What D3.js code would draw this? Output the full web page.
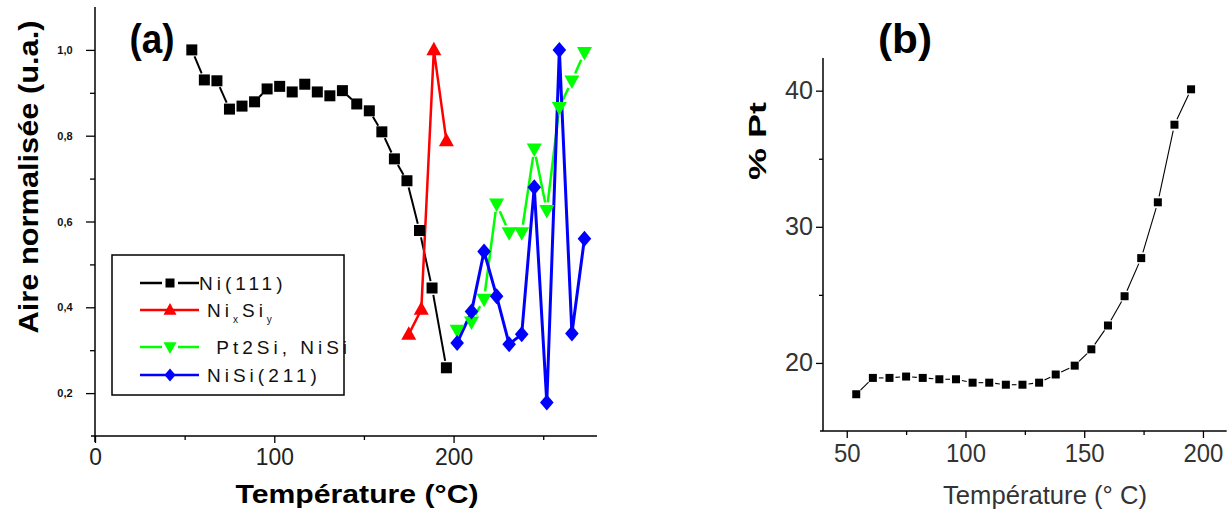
<!DOCTYPE html>
<html>
<head>
<meta charset="utf-8">
<script src="https://cdn.jsdelivr.net/npm/d3@7"></script>
<style>
  html, body { margin: 0; padding: 0; background: #fff; }
  svg { display: block; }
</style>
</head>
<body>
<svg id="chart" width="1232" height="515"></svg>
<script>
// ---------- Data (panel a) ----------
const niTemps   = [54, 61, 68, 75, 82, 89, 96, 103, 110, 117, 124, 131, 138, 146, 153, 160, 167, 174, 181, 188, 196];
const niValues  = [1.0, 0.930, 0.928, 0.862, 0.869, 0.879, 0.909, 0.915, 0.902, 0.920, 0.902, 0.893, 0.905, 0.874, 0.858, 0.809, 0.746, 0.695, 0.579, 0.445, 0.259];
const nixTemps  = [175, 182, 189, 196];
const nixValues = [0.337, 0.395, 1.0, 0.788];
const ptTemps   = [202, 210, 217, 224, 231, 238, 245, 252, 259, 266, 273];
const ptValues  = [0.347, 0.366, 0.419, 0.641, 0.574, 0.574, 0.769, 0.626, 0.866, 0.928, 0.994];
const nisiTemps = [202, 210, 217, 224, 231, 238, 245, 252, 259, 266, 273];
const nisiValues= [0.317, 0.390, 0.530, 0.426, 0.314, 0.337, 0.680, 0.178, 1.0, 0.339, 0.560];
const aYTicks   = [0.2, 0.4, 0.6, 0.8, 1.0];
const aYTickLabels = ["0,2", "0,4", "0,6", "0,8", "1,0"];
const aYMinor   = [0.3, 0.5, 0.7, 0.9];
const aXTicks   = [0, 100, 200];
const aXMinor   = [50, 150, 250];
const legendLabels = ["Ni(111)", "NixSiy", " Pt2Si, NiSi", "NiSi(211)"];

// ---------- Data (panel b) ----------
const ptTempsB  = [54, 61, 68, 75, 82, 89, 96, 103, 110, 117, 124, 131, 138, 146, 153, 160, 167, 174, 181, 188, 195];
const ptPercent = [17.7, 18.9, 18.9, 19.0, 18.9, 18.8, 18.8, 18.55, 18.55, 18.4, 18.4, 18.55, 19.15, 19.8, 21.0, 22.75, 24.9, 27.7, 31.8, 37.5, 40.1];
const bYTicks   = [20, 30, 40];
const bYMinor   = [25, 35];
const bXTicks   = [50, 100, 150, 200];
const bXMinor   = [75, 125, 175];

const svg = d3.select("#chart");
const FONT = "'Liberation Sans', Arial, sans-serif";

// ---------- helpers ----------
function gappedSegments(g, pts, gap, color, width, dash) {
  for (let i = 0; i < pts.length - 1; i++) {
    const [x1, y1] = pts[i], [x2, y2] = pts[i + 1];
    const dx = x2 - x1, dy = y2 - y1, L = Math.hypot(dx, dy);
    if (L <= 2 * gap + 1) continue;
    const ux = dx / L, uy = dy / L;
    const s = g.append("line")
      .attr("x1", x1 + ux * gap).attr("y1", y1 + uy * gap)
      .attr("x2", x2 - ux * gap).attr("y2", y2 - uy * gap)
      .attr("stroke", color).attr("stroke-width", width);
    if (dash) s.attr("stroke-dasharray", dash);
  }
}
function drawMarker(g, type, x, y, size, color) {
  if (type === "square") {
    g.append("rect").attr("x", x - size / 2).attr("y", y - size / 2)
      .attr("width", size).attr("height", size).attr("fill", color);
  } else if (type === "triUp" || type === "triDown") {
    const h = size * 0.9, w = size;
    const dir = type === "triUp" ? 1 : -1;
    const pts = [[x, y - dir * h * 0.6], [x - w / 2, y + dir * h * 0.4], [x + w / 2, y + dir * h * 0.4]];
    g.append("polygon").attr("points", pts.map(p => p.join(",")).join(" ")).attr("fill", color);
  } else if (type === "diamond") {
    const r = size / 2;
    g.append("polygon")
      .attr("points", [[x, y - r], [x + r * 0.85, y], [x, y + r], [x - r * 0.85, y]].map(p => p.join(",")).join(" "))
      .attr("fill", color);
  }
}

// =================== PANEL A ===================
const xA = d3.scaleLinear().domain([0, 280]).range([95, 597]);
const yA = d3.scaleLinear().domain([0.1, 1.1]).range([436, 7]);
const gA = svg.append("g");

gA.append("line").attr("x1", 91).attr("x2", 597).attr("y1", yA(0.1)).attr("y2", yA(0.1)).attr("stroke", "#000").attr("stroke-width", 1.5);
gA.append("line").attr("x1", xA(0)).attr("x2", xA(0)).attr("y1", yA(1.1)).attr("y2", 442).attr("stroke", "#000").attr("stroke-width", 1.5);

const axA_x = gA.append("g").attr("transform", `translate(0,${yA(0.1)})`)
  .call(d3.axisBottom(xA).tickValues(aXTicks).tickSize(7).tickSizeOuter(0).tickPadding(5).tickFormat(d3.format("d")));
axA_x.select(".domain").remove();
axA_x.selectAll("text").attr("font-family", FONT).attr("font-size", 24).attr("fill", "#222")
  .attr("textLength", d => String(d).length * 12.7).attr("lengthAdjust", "spacingAndGlyphs");
axA_x.selectAll("line").attr("stroke-width", 1.3);
const axA_xm = gA.append("g").attr("transform", `translate(0,${yA(0.1)})`)
  .call(d3.axisBottom(xA).tickValues(aXMinor).tickSize(4).tickSizeOuter(0).tickFormat(""));
axA_xm.select(".domain").remove();
axA_xm.selectAll("line").attr("stroke-width", 1.3);

const axA_y = gA.append("g").attr("transform", `translate(${xA(0)},0)`)
  .call(d3.axisLeft(yA).tickValues(aYTicks).tickSize(9).tickSizeOuter(0).tickPadding(22)
    .tickFormat((d, i) => aYTickLabels[i]));
axA_y.select(".domain").remove();
axA_y.selectAll("text").attr("font-family", FONT).attr("font-size", 11).attr("font-weight", "bold")
  .attr("text-anchor", "middle").attr("x", -30).attr("fill", "#111");
axA_y.selectAll("line").attr("stroke-width", 1.3);
const axA_ym = gA.append("g").attr("transform", `translate(${xA(0)},0)`)
  .call(d3.axisLeft(yA).tickValues(aYMinor).tickSize(5).tickSizeOuter(0).tickFormat(""));
axA_ym.select(".domain").remove();
axA_ym.selectAll("line").attr("stroke-width", 1.3);

gA.append("text").attr("x", 357).attr("y", 503).attr("text-anchor", "middle")
  .attr("font-family", FONT).attr("font-weight", "bold").attr("font-size", 26)
  .attr("textLength", 243).attr("lengthAdjust", "spacingAndGlyphs")
  .text("Température (°C)");
gA.append("text").attr("transform", "translate(38,177) rotate(-90)").attr("text-anchor", "middle")
  .attr("font-family", FONT).attr("font-weight", "bold").attr("font-size", 28)
  .attr("textLength", 313).attr("lengthAdjust", "spacingAndGlyphs")
  .text("Aire normalisée (u.a.)");
gA.append("text").attr("x", 152).attr("y", 53).attr("text-anchor", "middle")
  .attr("font-family", FONT).attr("font-weight", "bold").attr("font-size", 40)
  .attr("textLength", 45).attr("lengthAdjust", "spacingAndGlyphs").text("(a)");

const seriesA = [
  { t: niTemps, v: niValues, color: "#000000", marker: "square", size: 11, gap: 7, width: 2 },
  { t: nixTemps, v: nixValues, color: "#ff0000", marker: "triUp", size: 15, gap: 0, width: 2.5 },
  { t: ptTemps, v: ptValues, color: "#00ff00", marker: "triDown", size: 15, gap: 8, width: 2.5 },
  { t: nisiTemps, v: nisiValues, color: "#0000ff", marker: "diamond", size: 16, gap: 0, width: 3 }
];
const gLinesA = gA.append("g"), gMarksA = gA.append("g");
seriesA.forEach(s => {
  const pts = s.t.map((t, i) => [xA(t), yA(s.v[i])]);
  if (s.gap > 0) {
    gappedSegments(gLinesA, pts, s.gap, s.color, s.width);
  } else {
    gLinesA.append("path").attr("d", d3.line()(pts)).attr("fill", "none")
      .attr("stroke", s.color).attr("stroke-width", s.width).attr("stroke-linejoin", "round");
  }
});
seriesA.forEach(s => {
  s.t.forEach((t, i) => drawMarker(gMarksA, s.marker, xA(t), yA(s.v[i]), s.size, s.color));
});

// legend
const gLeg = gA.append("g");
gLeg.append("rect").attr("x", 112).attr("y", 255).attr("width", 232).attr("height", 140)
  .attr("fill", "#fff").attr("stroke", "#000").attr("stroke-width", 1.5);
const legRows = [283, 310, 347, 375];
seriesA.forEach((s, i) => {
  const y = legRows[i];
  if (s.gap > 0) {
    gLeg.append("line").attr("x1", 140).attr("x2", 162).attr("y1", y).attr("y2", y).attr("stroke", s.color).attr("stroke-width", 2.5);
    gLeg.append("line").attr("x1", 178).attr("x2", 199).attr("y1", y).attr("y2", y).attr("stroke", s.color).attr("stroke-width", 2.5);
  } else {
    gLeg.append("line").attr("x1", 140).attr("x2", 199).attr("y1", y).attr("y2", y).attr("stroke", s.color).attr("stroke-width", 2.5);
  }
  drawMarker(gLeg, s.marker, 170, y, s.marker === "square" ? 9 : 13, s.color);
  const tx = gLeg.append("text").attr("x", i === 0 ? 199 : 207).attr("y", y + 7)
    .attr("font-family", FONT).attr("font-size", 19).attr("letter-spacing", 4).attr("fill", "#111")
    .attr("xml:space", "preserve").style("white-space", "pre");
  if (legendLabels[i] === "NixSiy") {
    tx.append("tspan").text("Ni");
    tx.append("tspan").attr("font-size", 10).attr("dy", 6).text("x");
    tx.append("tspan").attr("dy", -6).text("Si");
    tx.append("tspan").attr("font-size", 10).attr("dy", 6).text("y");
  } else {
    tx.text(legendLabels[i]);
  }
});

// =================== PANEL B ===================
const xB = d3.scaleLinear().domain([40, 210]).range([823, 1226.7]);
const yB = d3.scaleLinear().domain([15, 42.4]).range([431, 58]);
const gB = svg.append("g");

gB.append("line").attr("x1", 820).attr("x2", 1226.7).attr("y1", yB(15)).attr("y2", yB(15)).attr("stroke", "#000").attr("stroke-width", 1.5);
gB.append("line").attr("x1", xB(40)).attr("x2", xB(40)).attr("y1", yB(42.4)).attr("y2", yB(15)).attr("stroke", "#000").attr("stroke-width", 1.5);

const axB_x = gB.append("g").attr("transform", `translate(0,${yB(15)})`)
  .call(d3.axisBottom(xB).tickValues(bXTicks).tickSize(7).tickSizeOuter(0).tickPadding(6).tickFormat(d3.format("d")));
axB_x.select(".domain").remove();
axB_x.selectAll("text").attr("font-family", FONT).attr("font-size", 25).attr("fill", "#333")
  .attr("textLength", d => String(d).length * 13.3).attr("lengthAdjust", "spacingAndGlyphs");
axB_x.selectAll("line").attr("stroke-width", 1.3);
const axB_xm = gB.append("g").attr("transform", `translate(0,${yB(15)})`)
  .call(d3.axisBottom(xB).tickValues(bXMinor).tickSize(4).tickSizeOuter(0).tickFormat(""));
axB_xm.select(".domain").remove();
axB_xm.selectAll("line").attr("stroke-width", 1.3);

const axB_y = gB.append("g").attr("transform", `translate(${xB(40)},0)`)
  .call(d3.axisLeft(yB).tickValues(bYTicks).tickSize(7).tickSizeOuter(0).tickPadding(3).tickFormat(d3.format("d")));
axB_y.select(".domain").remove();
axB_y.selectAll("text").attr("font-family", FONT).attr("font-size", 25).attr("fill", "#333")
  .attr("textLength", 28).attr("lengthAdjust", "spacingAndGlyphs");
axB_y.selectAll("line").attr("stroke-width", 1.3);
const axB_ym = gB.append("g").attr("transform", `translate(${xB(40)},0)`)
  .call(d3.axisLeft(yB).tickValues(bYMinor).tickSize(4).tickSizeOuter(0).tickFormat(""));
axB_ym.select(".domain").remove();
axB_ym.selectAll("line").attr("stroke-width", 1.3);

gB.append("text").attr("x", 1045).attr("y", 504).attr("text-anchor", "middle")
  .attr("font-family", FONT).attr("font-size", 25).attr("fill", "#333")
  .attr("textLength", 204).attr("lengthAdjust", "spacingAndGlyphs")
  .text("Température (° C)");
gB.append("text").attr("transform", "translate(766,141) rotate(-90)").attr("text-anchor", "middle")
  .attr("font-family", FONT).attr("font-weight", "bold").attr("font-size", 24)
  .attr("textLength", 78).attr("lengthAdjust", "spacingAndGlyphs").text("% Pt");
gB.append("text").attr("x", 905).attr("y", 53).attr("text-anchor", "middle")
  .attr("font-family", FONT).attr("font-weight", "bold").attr("font-size", 40)
  .attr("textLength", 54).attr("lengthAdjust", "spacingAndGlyphs").text("(b)");

const ptsB = ptTempsB.map((t, i) => [xB(t), yB(ptPercent[i])]);
gappedSegments(gB.append("g"), ptsB, 6, "#000", 1.1);
const gMarksB = gB.append("g");
ptsB.forEach(p => drawMarker(gMarksB, "square", p[0], p[1], 8, "#000"));
</script>
</body>
</html>
